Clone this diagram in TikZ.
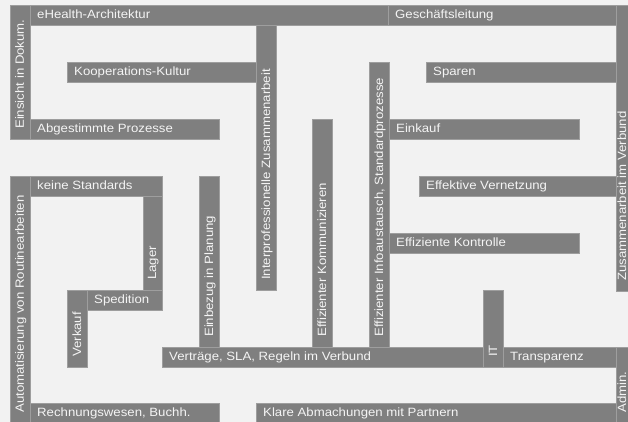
\documentclass[tikz,border=0pt]{standalone}
\usepackage{fontspec}
\setmainfont[FakeStretch=1.1]{Liberation Sans}
\definecolor{bgc}{HTML}{F2F2F2}
\definecolor{barc}{HTML}{7F7F7F}
\definecolor{barl}{HTML}{9E9E9E}
\definecolor{txtc}{HTML}{F4F4F4}
\tikzset{
  barbox/.style={fill=barc, draw=barl, line width=0.6pt, inner sep=0pt, outer sep=0pt},
  bartext/.style={text=txtc, inner sep=0pt, font=\fontsize{12}{14}\selectfont}
}
% horizontal bar: name, x1, y1, x2, y2 (pixel coords, y down), text
\newcommand{\HB}[6]{%
  \pgfmathsetmacro{\mybw}{#4-#2}\pgfmathsetmacro{\mybh}{#5-#3}%
  \node[barbox, minimum width=\mybw pt, minimum height=\mybh pt, anchor=north west] (#1) at ({#2},{422-#3}) {};%
  \node[bartext, anchor=base west] (#1-t) at ([shift={(7pt,6pt)}]#1.south west) {#6};%
}
% vertical bar
\newcommand{\VB}[6]{%
  \pgfmathsetmacro{\mybw}{#4-#2}\pgfmathsetmacro{\mybh}{#5-#3}%
  \node[barbox, minimum width=\mybw pt, minimum height=\mybh pt, anchor=north west] (#1) at ({#2},{422-#3}) {};%
  \node[bartext, anchor=base west, rotate=90] (#1-t) at ([shift={(-6pt,10pt)}]#1.south east) {#6};%
}
\begin{document}
\begin{tikzpicture}[x=1pt,y=1pt]
\clip (0,0) rectangle (628,422);
\useasboundingbox (0,0) rectangle (628,422);
\fill[bgc] (0,0) rectangle (628,422);
\VB{einsicht}{10}{5}{30}{139}{Einsicht in Dokum.}
\HB{ehealth}{30}{5}{388}{25}{eHealth-Architektur}
\HB{gl}{388}{5}{616}{25}{Geschäftsleitung}
\VB{zv}{616}{5}{632}{291}{Zusammenarbeit im Verbund}
\HB{koop}{67}{62}{256}{82}{Kooperations-Kultur}
\VB{inter}{256}{25}{276}{290}{Interprofessionelle Zusammenarbeit}
\HB{abg}{30}{119}{219}{139}{Abgestimmte Prozesse}
\VB{info}{369}{62}{389}{347}{Effizienter Infoaustausch, Standardprozesse}
\HB{sparen}{426}{62}{616}{82}{Sparen}
\HB{einkauf}{389}{119}{579}{139}{Einkauf}
\VB{komm}{312}{119}{332}{347}{Effizienter Kommunizieren}
\VB{auto}{10}{176}{30}{423}{Automatisierung von Routinearbeiten}
\HB{keine}{30}{176}{162}{196}{keine Standards}
\VB{lager}{143}{196}{162}{290}{Lager}
\VB{einbezug}{199}{176}{219}{347}{Einbezug in Planung}
\HB{vernetz}{419}{176}{616}{196}{Effektive Vernetzung}
\HB{kontr}{389}{233}{579}{253}{Effiziente Kontrolle}
\HB{sped}{87}{290}{162}{310}{Spedition}
\VB{verkauf}{67}{290}{87}{367}{Verkauf}
\HB{vertr}{162}{347}{483}{367}{Verträge, SLA, Regeln im Verbund}
\VB{it}{483}{290}{503}{367}{IT}
\HB{transp}{503}{347}{616}{367}{Transparenz}
\VB{admin}{616}{347}{632}{423}{Admin.}
\HB{rechn}{30}{403}{219}{423}{Rechnungswesen, Buchh.}
\HB{klare}{256}{403}{616}{423}{Klare Abmachungen mit Partnern}
\end{tikzpicture}
\end{document}
